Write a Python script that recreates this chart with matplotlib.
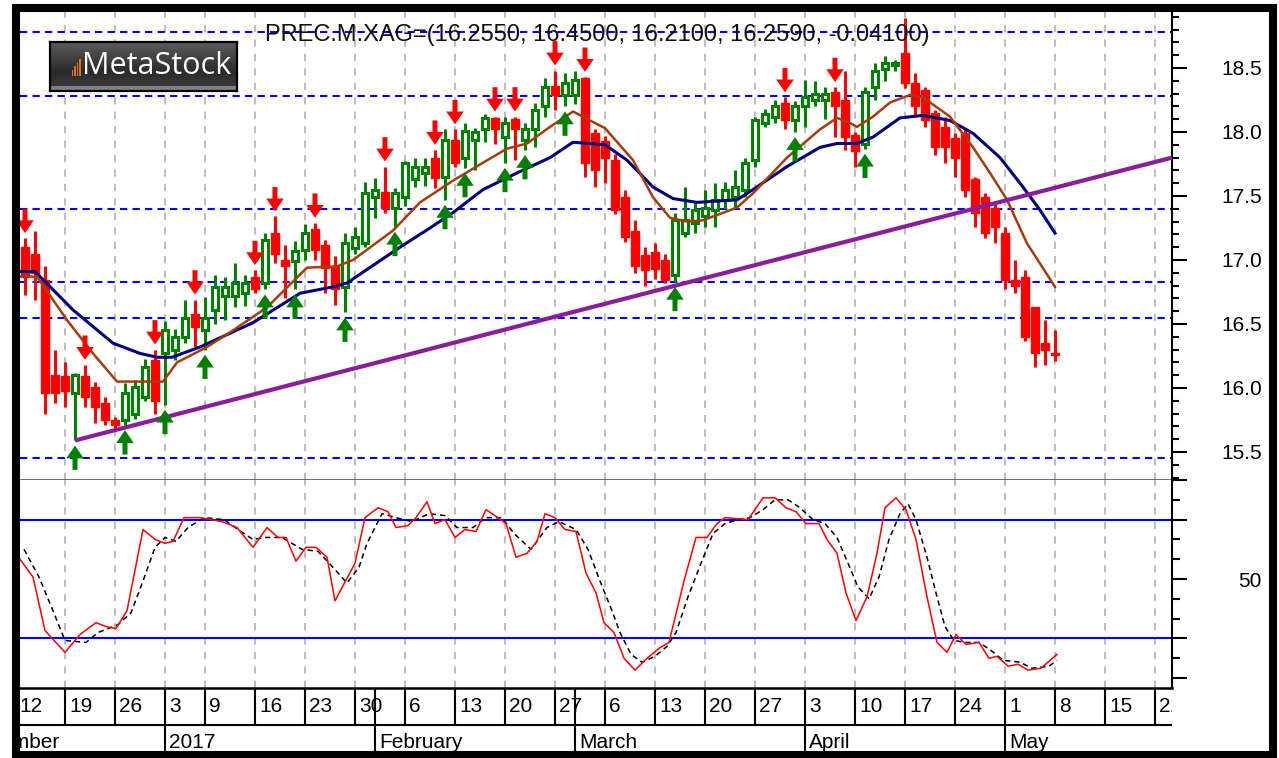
import matplotlib
matplotlib.use('Agg')
import numpy as np
import matplotlib.pyplot as plt
from matplotlib.patches import Rectangle
from matplotlib.ticker import FixedLocator, FixedFormatter

plt.rcParams['font.family'] = ['Liberation Sans', 'DejaVu Sans']

W, H = 1279, 758

# trading-day index: 0 = Dec 12 2016, candles start at index 1
first_day = 1
opens = [17.10, 17.05, 16.84, 16.10, 16.09, 15.96, 16.09, 16.01, 15.88, 15.75,
         15.75, 15.80, 15.93, 16.22, 16.27, 16.30, 16.40, 16.58, 16.45, 16.61,
         16.72, 16.72, 16.74, 16.87, 16.82, 17.21, 17.00, 16.99, 17.08, 17.24,
         17.12, 16.95, 16.79, 17.09, 17.13, 17.49, 17.53, 17.41, 17.49, 17.63,
         17.68, 17.80, 17.65, 17.94, 17.80, 17.94, 18.02, 18.11, 17.96, 18.10,
         17.94, 18.02, 18.20, 18.36, 18.29, 18.29, 18.42, 17.99, 17.93, 17.78,
         17.49, 17.23, 17.04, 17.06, 17.00, 16.88, 17.21, 17.29, 17.34, 17.39,
         17.47, 17.49, 17.55, 17.78, 18.07, 18.12, 18.23, 18.09, 18.20, 18.25,
         18.25, 18.31, 18.25, 17.98, 17.91, 18.35, 18.49, 18.52, 18.62, 18.38,
         18.33, 18.15, 18.04, 17.95, 17.99, 17.63, 17.49, 17.41, 17.21, 16.84,
         16.87, 16.63, 16.35, 16.27]
highs = [17.17, 17.23, 16.95, 16.30, 16.20, 16.12, 16.18, 16.05, 15.93, 15.77,
         16.04, 16.06, 16.23, 16.30, 16.52, 16.46, 16.69, 16.69, 16.71, 16.88,
         16.87, 16.98, 16.88, 16.92, 17.21, 17.34, 17.12, 17.15, 17.28, 17.29,
         17.16, 17.03, 17.21, 17.26, 17.61, 17.64, 17.73, 17.56, 17.77, 17.80,
         17.80, 17.86, 18.02, 18.02, 18.07, 18.03, 18.14, 18.12, 18.12, 18.12,
         18.07, 18.23, 18.42, 18.48, 18.46, 18.48, 18.43, 18.02, 17.97, 17.83,
         17.55, 17.31, 17.10, 17.13, 17.05, 17.37, 17.57, 17.45, 17.55, 17.60,
         17.61, 17.70, 17.80, 18.12, 18.18, 18.25, 18.27, 18.24, 18.41, 18.40,
         18.35, 18.35, 18.48, 18.00, 18.35, 18.54, 18.59, 18.56, 18.89, 18.46,
         18.35, 18.17, 18.12, 17.99, 18.02, 17.65, 17.52, 17.44, 17.26, 17.00,
         16.92, 16.63, 16.53, 16.45]
lows = [16.73, 16.69, 15.80, 15.88, 15.85, 15.59, 15.85, 15.73, 15.71, 15.67,
        15.71, 15.76, 15.90, 15.80, 15.87, 16.22, 16.35, 16.32, 16.30, 16.50,
        16.53, 16.63, 16.64, 16.74, 16.77, 16.98, 16.70, 16.77, 17.00, 17.00,
        16.74, 16.65, 16.59, 17.05, 17.10, 17.33, 17.37, 17.26, 17.42, 17.57,
        17.58, 17.56, 17.47, 17.73, 17.72, 17.70, 17.92, 17.91, 17.76, 17.78,
        17.86, 17.88, 18.12, 18.17, 18.20, 18.22, 17.65, 17.57, 17.60, 17.36,
        17.14, 16.90, 16.80, 16.85, 16.82, 16.83, 17.18, 17.21, 17.26, 17.26,
        17.40, 17.41, 17.49, 17.73, 18.04, 18.07, 18.02, 18.00, 18.04, 18.20,
        18.10, 17.96, 17.86, 17.73, 17.87, 18.25, 18.40, 18.48, 18.34, 18.12,
        18.04, 17.82, 17.76, 17.65, 17.49, 17.26, 17.17, 17.13, 16.77, 16.74,
        16.37, 16.16, 16.18, 16.21]
closes = [16.87, 16.90, 15.96, 15.96, 15.98, 16.10, 15.93, 15.85, 15.75, 15.71,
          15.96, 16.01, 16.16, 15.90, 16.45, 16.40, 16.55, 16.48, 16.55, 16.79,
          16.79, 16.82, 16.82, 16.77, 17.16, 17.05, 16.95, 17.07, 17.21, 17.08,
          16.94, 16.77, 17.13, 17.18, 17.52, 17.55, 17.41, 17.52, 17.76, 17.73,
          17.73, 17.64, 17.94, 17.76, 18.01, 18.00, 18.11, 18.02, 18.07, 18.02,
          18.02, 18.17, 18.35, 18.29, 18.38, 18.41, 17.76, 17.70, 17.80, 17.39,
          17.18, 16.95, 16.92, 16.93, 16.84, 17.31, 17.31, 17.39, 17.41, 17.47,
          17.55, 17.57, 17.76, 18.09, 18.14, 18.20, 18.09, 18.20, 18.27, 18.30,
          18.30, 18.20, 17.96, 17.85, 18.31, 18.48, 18.54, 18.54, 18.38, 18.20,
          18.09, 17.88, 17.88, 17.80, 17.55, 17.37, 17.21, 17.26, 16.84, 16.80,
          16.40, 16.27, 16.30, 16.259]

# moving averages (day index, price)
ma_slow_x = [0.5, 2.0, 5.8, 9.8, 12.5, 14.2, 15.7, 18.5, 23.8, 28.5, 31.8, 33.2,
             38.5, 41.5, 43.8, 46.8, 50.2, 53.5, 55.8, 59.0, 61.2, 63.8, 65.8,
             68.2, 72.2, 73.8, 77.2, 80.5, 82.2, 84.2, 85.8, 88.5, 90.8, 93.5,
             95.8, 98.5, 100.8, 102.5, 104.0]
ma_slow_y = [16.91, 16.91, 16.61, 16.35, 16.27, 16.24, 16.24, 16.32, 16.51, 16.74,
             16.79, 16.82, 17.10, 17.25, 17.37, 17.55, 17.68, 17.80, 17.92, 17.90,
             17.78, 17.57, 17.48, 17.45, 17.47, 17.55, 17.73, 17.88, 17.91, 17.91,
             17.96, 18.11, 18.13, 18.09, 17.99, 17.80, 17.57, 17.39, 17.21]
ma_fast_x = [0.5, 2.2, 5.2, 7.8, 10.2, 14.8, 16.2, 19.2, 21.8, 25.2, 29.2, 32.2,
             33.8, 37.8, 40.5, 43.8, 46.8, 49.2, 51.2, 53.5, 55.8, 57.5, 59.0,
             61.8, 63.8, 65.5, 67.2, 68.8, 72.2, 73.8, 77.2, 80.5, 82.2, 83.5,
             84.2, 85.8, 87.5, 89.5, 90.8, 93.5, 95.8, 97.5, 99.2, 101.2, 104.0]
ma_fast_y = [16.87, 16.87, 16.53, 16.27, 16.05, 16.05, 16.20, 16.32, 16.45, 16.63,
             16.94, 16.95, 17.00, 17.23, 17.45, 17.62, 17.76, 17.87, 17.91, 18.04,
             18.16, 18.09, 18.03, 17.78, 17.49, 17.33, 17.30, 17.31, 17.41, 17.52,
             17.80, 18.02, 18.11, 18.07, 18.04, 18.12, 18.23, 18.29, 18.27, 18.12,
             17.88, 17.68, 17.47, 17.13, 16.79]

trend_x = [6.0, 115.7]
trend_y = [15.59, 17.80]
levels = [18.78, 18.28, 17.40, 16.83, 16.55, 15.45]

sell_days = [1, 7, 14, 18, 24, 26, 30, 37, 42, 44, 48, 50, 54, 57, 77, 82]
buy_days = [6, 11, 15, 19, 25, 28, 33, 38, 43, 45, 49, 51, 55, 66, 78, 85]

# stochastic %K (red) and %D (black dashed)
stoch_k_x = [0.5, 1.8, 3.0, 5.0, 6.5, 8.1, 9.1, 10.1, 11.2, 12.8, 14.0, 15.0, 15.8,
             16.9, 18.5, 20.7, 22.2, 23.8, 25.2, 26.3, 27.1, 28.1, 29.1, 30.1, 31.2,
             32.0, 34.0, 35.0, 36.3, 37.3, 38.1, 39.3, 40.1, 41.2, 42.0, 43.0, 44.0,
             45.0, 46.1, 47.1, 48.3, 49.1, 50.1, 51.2, 52.2, 53.0, 54.0, 55.0, 56.1,
             57.1, 58.1, 58.9, 59.9, 60.9, 62.0, 63.2, 64.4, 65.4, 66.9, 68.1, 69.2,
             70.2, 71.0, 73.3, 74.8, 76.0, 77.1, 78.1, 79.1, 80.4, 81.2, 82.2, 83.1,
             84.1, 85.2, 86.2, 87.0, 88.1, 89.1, 90.1, 91.2, 92.2, 93.2, 94.1, 95.1,
             96.4, 97.4, 98.2, 99.3, 100.3, 101.3, 102.6, 104.2]
stoch_k = [60, 51, 24, 13, 22, 28, 26, 25, 34, 75, 70, 68, 69,
           81, 81, 79, 76, 66, 76, 71, 71, 59, 66, 66, 61,
           39, 58, 81, 86, 84, 76, 77, 81, 89, 78, 80, 71,
           75, 74, 85, 81, 78, 61, 63, 69, 83, 81, 75, 74,
           53, 43, 28, 23, 10, 4, 10, 15, 18, 49, 71, 71,
           78, 81, 80, 91, 91, 86, 84, 78, 78, 70, 63, 43,
           29, 41, 63, 86, 91, 85, 70, 41, 18, 13, 22, 17,
           18, 10, 11, 6, 7, 4, 5, 12]
stoch_d_x = [0.9, 2.4, 3.8, 5.0, 7.1, 8.3, 10.3, 11.6, 12.8, 14.0, 15.0, 16.1, 17.3,
             18.9, 20.9, 22.6, 23.8, 25.0, 26.7, 28.7, 30.3, 31.6, 33.2, 34.4, 35.2,
             36.7, 38.1, 39.7, 41.4, 43.0, 44.2, 45.8, 47.1, 48.7, 49.9, 51.6, 53.2,
             54.4, 56.1, 57.3, 58.5, 59.7, 60.5, 61.6, 62.7, 64.0, 65.2, 66.1, 67.3,
             68.6, 69.8, 71.0, 72.3, 73.5, 74.8, 76.0, 77.3, 78.5, 79.8, 81.0, 82.2,
             83.3, 84.3, 85.4, 86.4, 87.4, 88.5, 89.3, 90.1, 91.2, 92.2, 93.0, 93.9,
             95.1, 96.4, 97.6, 98.8, 100.5, 101.7, 103.4, 104.2]
stoch_d = [65, 51, 34, 19, 18, 23, 27, 33, 49, 66, 71, 69, 76,
           81, 80, 74, 70, 71, 71, 65, 64, 57, 48, 56, 68,
           83, 81, 79, 83, 82, 76, 76, 81, 81, 73, 65, 76,
           79, 75, 65, 49, 34, 23, 12, 8, 11, 16, 23, 41,
           58, 73, 78, 80, 81, 85, 90, 90, 86, 80, 78, 71,
           58, 46, 40, 51, 70, 83, 88, 80, 61, 41, 26, 19,
           18, 18, 14, 9, 8, 5, 6, 9]
stoch_levels = [80, 20]

# date axis
week_days = [0, 5, 10, 15, 19, 24, 29, 34, 39, 44, 49, 54, 59, 64, 69, 74, 79,
             84, 89, 94, 99, 104, 109, 114]
week_labels = ['12', '19', '26', '3', '9', '16', '23', '30', '6', '13', '20', '27',
               '6', '13', '20', '27', '3', '10', '17', '24', '1', '8', '15', '22']
month_days = [-5.6, 15, 36, 56, 79, 99]
month_labels = ['December', '2017', 'February', 'March', 'April', 'May']

title = 'PREC.M.XAG=(16.2550, 16.4500, 16.2100, 16.2590, -0.04100)'


def fx(px):
    return px / W


def fy(py):
    return 1 - py / H


fig = plt.figure(figsize=(W / 100, H / 100), dpi=100, facecolor='white')
left, right = fx(20), fx(1172)
ax = fig.add_axes([left, fy(480), right - left, fy(12) - fy(480)])
ax2 = fig.add_axes([left, fy(688), right - left, fy(480) - fy(688)])
ax3 = fig.add_axes([left, fy(752), right - left, fy(688) - fy(752)])

xmin, xmax = 0.5, 115.7
for a in (ax, ax2, ax3):
    a.set_xlim(xmin, xmax)
    a.set_xticks([])
    for s in a.spines.values():
        s.set_visible(False)

# ---- main price panel ----
ax.set_ylim(15.281, 18.9375)
for d in week_days:
    ax.axvline(d, color='#b8b8b8', lw=1.3, ls=(0, (4, 4)), zorder=1)
    ax2.axvline(d, color='#b8b8b8', lw=1.3, ls=(0, (4, 4)), zorder=1)
for lv in levels:
    ax.axhline(lv, color='#0000ff', lw=1.5, ls=(0, (3.5, 2.5)), zorder=1.5)

for k in range(len(opens)):
    x = first_day + k
    o, h, l, c = opens[k], highs[k], lows[k], closes[k]
    up = c >= o
    col = '#008000' if up else '#ff0000'
    ax.plot([x, x], [l, h], color=col, lw=2.2, solid_capstyle='butt', zorder=2)
    bh = max(abs(c - o), 0.012)
    if up:
        ax.add_patch(Rectangle((x - 0.31, min(o, c)), 0.62, bh, facecolor='white',
                               edgecolor=col, lw=2.2, zorder=2.2))
    else:
        ax.add_patch(Rectangle((x - 0.4, min(o, c)), 0.8, bh, facecolor=col,
                               edgecolor=col, lw=1.0, zorder=2.2))

ax.plot(ma_slow_x, ma_slow_y, color='#000080', lw=2.2, zorder=3)
ax.plot(ma_fast_x, ma_fast_y, color='#a63c0c', lw=1.8, zorder=3.1)
ax.plot(trend_x, trend_y, color='#8c1c9c', lw=3.0, zorder=3.5, solid_capstyle='butt')

# signal arrows above highs / below lows
for d in sell_days:
    h = highs[d - first_day]
    ax.arrow(d, h + 0.23, 0, -0.19, width=0.5, head_width=1.75, head_length=0.1,
             length_includes_head=True, color='#ff0000', lw=0, zorder=4)
for d in buy_days:
    l = lows[d - first_day]
    ax.arrow(d, l - 0.23, 0, 0.19, width=0.5, head_width=1.75, head_length=0.1,
             length_includes_head=True, color='#008000', lw=0, zorder=4)

ax.text((265 - 20) / 1152, (480 - 35) / 468, title, transform=ax.transAxes,
        fontsize=17, color='#101010', va='center', ha='left', zorder=5)

ax.spines['right'].set_visible(True)
ax.spines['right'].set_linewidth(1.5)
ax.spines['bottom'].set_visible(True)
ax.spines['bottom'].set_color('#404040')
ax.spines['bottom'].set_linewidth(1.8)
ax.yaxis.tick_right()
ax.yaxis.set_major_locator(FixedLocator([15.5, 16.0, 16.5, 17.0, 17.5, 18.0, 18.5]))
ax.yaxis.set_minor_locator(FixedLocator(np.arange(15.3, 18.95, 0.1)))
ax.tick_params(axis='y', which='major', length=10.8, width=1.5, pad=54, labelsize=15)
ax.tick_params(axis='y', which='minor', length=5, width=1.5)
for t in ax.get_yticklabels():
    t.set_ha('right')

# ---- stochastic panel ----
ax2.set_ylim(-5, 100)
for lv in stoch_levels:
    ax2.axhline(lv, color='#0000ff', lw=1.5, zorder=1.5)
ax2.plot(stoch_d_x, stoch_d, color='black', lw=1.1, ls=(0, (3.5, 2.5)), zorder=3)
ax2.plot(stoch_k_x, stoch_k, color='#ff0000', lw=1.1, zorder=3.2)
ax2.spines['right'].set_visible(True)
ax2.spines['right'].set_linewidth(1.5)
ax2.yaxis.tick_right()
ax2.yaxis.set_major_locator(FixedLocator([0, 20, 50, 80, 100]))
ax2.yaxis.set_major_formatter(FixedFormatter(['', '', '50', '', '']))
ax2.yaxis.set_minor_locator(FixedLocator([10, 30, 40, 60, 70, 90]))
ax2.tick_params(axis='y', which='major', length=10.5, width=1.5, pad=54, labelsize=15)
ax2.tick_params(axis='y', which='minor', length=5.8, width=1.5)
for t in ax2.get_yticklabels():
    t.set_ha('right')

# ---- date axis ----
ax3.set_ylim(0, 1)
ax3.set_yticks([])
ax3.spines['top'].set_visible(True)
ax3.spines['top'].set_linewidth(1.8)
mid = (752 - 725) / 64
ax3.axhline(mid, color='black', lw=1.5)
for d, lab in zip(week_days, week_labels):
    ax3.plot([d, d], [mid, 1], color='black', lw=1.5)
    ax3.text(d + 0.4, (752 - 706) / 64, lab, fontsize=15, va='center', ha='left',
             clip_on=True)
for d, lab in zip(month_days, month_labels):
    ax3.plot([d, d], [0, 1], color='black', lw=1.5)
    ax3.text(d + 0.4, (752 - 742) / 64, lab, fontsize=15, va='center', ha='left',
             clip_on=True)

# ---- logo ----
axl = fig.add_axes([fx(50), fy(91), fx(237) - fx(50), fy(42) - fy(91)])
grad = np.concatenate([np.linspace(0.36, 0.17, 30), np.linspace(0.17, 0.22, 14),
                       np.linspace(0.5, 0.5, 5)])
axl.imshow(grad[:, None], cmap='gray', vmin=0, vmax=1, aspect='auto',
           extent=[0, 1, 0, 1])
axl.set_xticks([])
axl.set_yticks([])
for s in axl.spines.values():
    s.set_linewidth(1.6)
    s.set_color('black')
for j, bh in enumerate([0.12, 0.2, 0.28, 0.36]):
    axl.add_patch(Rectangle((0.115 + j * 0.014, 0.3), 0.009, bh,
                            facecolor='#e0701c', edgecolor='none'))
axl.text(0.17, 0.52, 'MetaStock', color='white', fontsize=22, va='center',
         ha='left', family=['Open Sans', 'DejaVu Sans'])

# ---- outer frame ----
fig.patches.append(Rectangle((fx(16), fy(754.5)), fx(1272.5) - fx(16),
                             fy(8) - fy(754.5), transform=fig.transFigure,
                             fill=False, edgecolor='black', lw=5.8, zorder=10))

fig.savefig('out.png', dpi=100)
